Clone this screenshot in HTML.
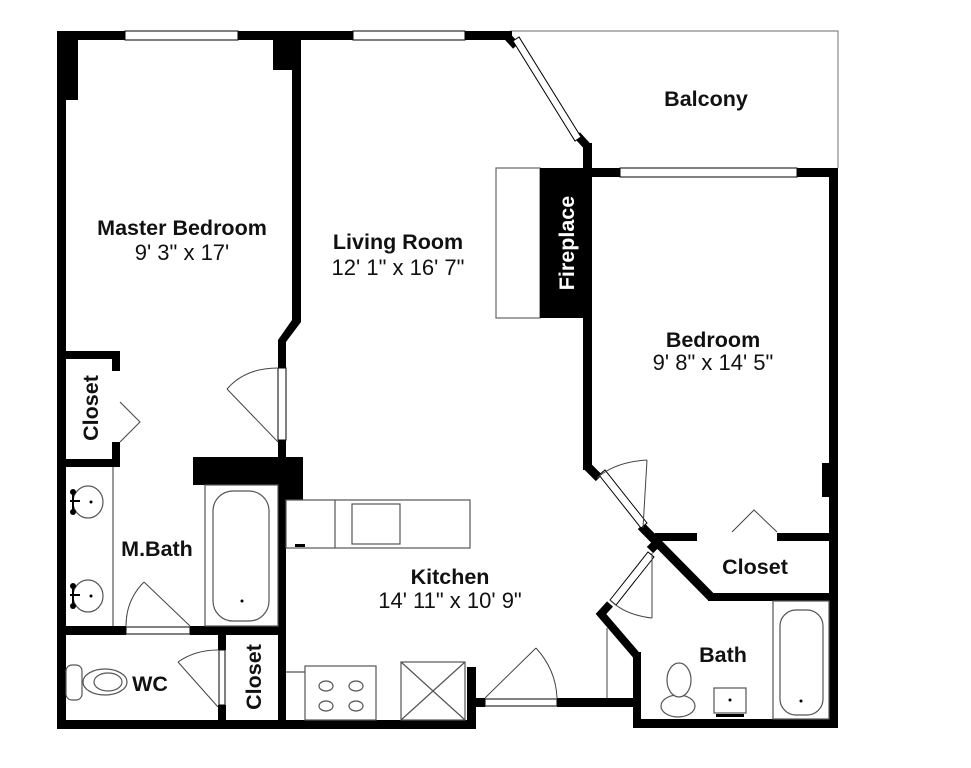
<!DOCTYPE html>
<html><head><meta charset="utf-8"><style>
html,body{margin:0;padding:0;background:#fff;}
svg{display:block;}
text{font-family:"Liberation Sans",Arial,sans-serif;fill:#111;}
.b{font-weight:bold;font-size:21.5px;}
.r{font-size:22px;}
</style></head><body>
<svg width="971" height="768" viewBox="0 0 971 768" xmlns="http://www.w3.org/2000/svg">
<rect width="971" height="768" fill="#fff"/>
<!-- balcony -->
<polyline points="510,31 838,31 838,168" fill="none" stroke="#888" stroke-width="1.2"/>
<!-- hearth -->
<rect x="496" y="168" width="44" height="150" fill="#fff" stroke="#666" stroke-width="1.2"/>
<g fill="#000">
<rect x="57" y="31" width="455" height="9"/>
<rect x="57" y="31" width="9" height="698"/>
<rect x="57" y="31" width="21" height="69"/>
<rect x="273" y="31" width="28" height="39"/>
<rect x="292" y="31" width="9" height="289"/>
<polygon points="292,318 301,318 301,322 286,342 286,368 278,368 278,340 292,320"/>
<rect x="278" y="440" width="8" height="20"/>
<rect x="193" y="457" width="110" height="28"/>
<rect x="278" y="457" width="25" height="43"/>
<rect x="278" y="485" width="8" height="243"/>
<rect x="57" y="351" width="63" height="8"/>
<rect x="112" y="351" width="8" height="20"/>
<rect x="112" y="442" width="8" height="24"/>
<rect x="57" y="459" width="63" height="8"/>
<rect x="57" y="626" width="69" height="9"/>
<rect x="190" y="626" width="96" height="9"/>
<rect x="218" y="635" width="8" height="15"/>
<rect x="218" y="705" width="8" height="18"/>
<rect x="57" y="720" width="419" height="9"/>
<rect x="467" y="667" width="9" height="62"/>
<rect x="467" y="698" width="18" height="9"/>
<rect x="557" y="698" width="84" height="9"/>
<rect x="633" y="652" width="8" height="76"/>
<rect x="633" y="719" width="205" height="9"/>
<rect x="829" y="168" width="9" height="560"/>
<rect x="822" y="463" width="8" height="34"/>
<rect x="583" y="143" width="9" height="327"/>
<rect x="583" y="168" width="37" height="9"/>
<rect x="797" y="168" width="41" height="9"/>
<rect x="540" y="168" width="45" height="150"/>
<rect x="655" y="533" width="42" height="8"/>
<rect x="777" y="533" width="53" height="8"/>
<rect x="708" y="593" width="122" height="8"/>
</g>
<g stroke="#000" fill="none" stroke-linejoin="miter">
<polyline points="587,466 599,478" stroke-width="9"/>
<polyline points="641,526 712,598" stroke-width="9"/>
<polyline points="637,656 601,614 610,604" stroke-width="8"/>
<polyline points="650,550 658,542" stroke-width="9"/>
<polyline points="506,35 516,46" stroke-width="8"/>
<polyline points="577,135 587,146" stroke-width="8"/>
</g>
<g stroke="#000" stroke-width="1" fill="#fff">
<rect x="125" y="31" width="113" height="9"/>
<rect x="353" y="31" width="112" height="9"/>
<rect x="620" y="168" width="177" height="9"/>
<polygon points="513,41 519,37 581,137 575,141"/>
<polygon points="599,475 605,470 647,523 641,528"/>
<polygon points="610,600 616,605 654,557 648,552"/>
<rect x="278" y="368" width="8" height="72" fill="#fff"/>
<rect x="126" y="627" width="64" height="7"/>
<rect x="219" y="650" width="6" height="55"/>
<rect x="485" y="699" width="72" height="7"/>
</g>
<g stroke="#444" stroke-width="1" fill="none">
<line x1="278" y1="442" x2="227" y2="389"/><path d="M227,389 Q245,368 278,368"/>
<polyline points="120,402 140,422 120,442"/>
<line x1="190" y1="626" x2="144" y2="582"/><path d="M144,582 Q126,600 126,626"/>
<line x1="218" y1="707" x2="178" y2="662"/><path d="M178,662 Q195,650 218,650"/>
<line x1="485" y1="698" x2="536" y2="648"/><path d="M536,648 Q556,670 557,698"/>
<line x1="643" y1="528" x2="647" y2="460"/><path d="M647,460 Q615,462 597,478"/>
<line x1="652" y1="553" x2="652" y2="618"/><path d="M652,618 Q625,615 610,600"/>
<polyline points="732,532 754,510 777,532"/>
<line x1="607" y1="628" x2="607" y2="698"/>
</g>
<g stroke="#555" stroke-width="1.2" fill="#fff">
<line x1="113" y1="467" x2="113" y2="626"/>
<rect x="205" y="485" width="73" height="141"/>
<rect x="213" y="491" width="56" height="130" rx="20"/>
<ellipse cx="88" cy="502" rx="15" ry="16"/>
<ellipse cx="88" cy="596" rx="15" ry="16"/>
<rect x="66" y="665" width="16" height="35" rx="6"/>
<ellipse cx="105" cy="682" rx="22" ry="13"/>
<ellipse cx="108" cy="682" rx="14" ry="9"/>
<rect x="286" y="500" width="184" height="48"/>
<line x1="335" y1="500" x2="335" y2="548"/>
<rect x="352" y="504" width="48" height="40"/>
<line x1="286" y1="672" x2="305" y2="672"/>
<rect x="305" y="666" width="71" height="54"/>
<ellipse cx="326" cy="686" rx="7" ry="5"/><ellipse cx="356" cy="686" rx="7" ry="5"/>
<ellipse cx="326" cy="706" rx="7" ry="5"/><ellipse cx="356" cy="706" rx="7" ry="5"/>
<rect x="401" y="662" width="64" height="58"/>
<line x1="401" y1="662" x2="465" y2="720"/><line x1="465" y1="662" x2="401" y2="720"/>
<rect x="773" y="601" width="56" height="118"/>
<rect x="780" y="610" width="43" height="105" rx="16"/>
<ellipse cx="678" cy="706" rx="17" ry="11"/>
<ellipse cx="679" cy="680" rx="12" ry="17"/>
<rect x="714" y="688" width="32" height="25"/>
</g>
<g fill="#000">
<rect x="295" y="544" width="10" height="3"/>
<circle cx="91" cy="502" r="1.5"/><circle cx="91" cy="596" r="1.5"/>
<rect x="70" y="500" width="10" height="2"/><circle cx="73" cy="492" r="3"/><circle cx="73" cy="512" r="3"/><rect x="72" y="492" width="2" height="20"/>
<rect x="70" y="594" width="10" height="2"/><circle cx="73" cy="586" r="3"/><circle cx="73" cy="606" r="3"/><rect x="72" y="586" width="2" height="20"/>
<circle cx="242" cy="601" r="1.5"/><circle cx="801" cy="701" r="1.5"/><circle cx="730" cy="700" r="1.5"/>
<rect x="716" y="714" width="28" height="3"/>
</g>
<text class="b" x="706" y="106" text-anchor="middle">Balcony</text>
<text class="b" x="182" y="235" text-anchor="middle">Master Bedroom</text>
<text class="r" x="182" y="260" text-anchor="middle">9' 3" x 17'</text>
<text class="b" x="398" y="249" text-anchor="middle">Living Room</text>
<text class="r" x="398" y="275" text-anchor="middle">12' 1" x 16' 7"</text>
<text class="b" x="713" y="347" text-anchor="middle">Bedroom</text>
<text class="r" x="713" y="370" text-anchor="middle">9' 8" x 14' 5"</text>
<text class="b" x="450" y="584" text-anchor="middle">Kitchen</text>
<text class="r" x="450" y="608" text-anchor="middle">14' 11" x 10' 9"</text>
<text class="b" x="157" y="556" text-anchor="middle">M.Bath</text>
<text class="b" x="150" y="691" text-anchor="middle">WC</text>
<text class="b" x="755" y="574" text-anchor="middle">Closet</text>
<text class="b" x="723" y="662" text-anchor="middle">Bath</text>
<text class="b" transform="translate(98,408) rotate(-90)" text-anchor="middle">Closet</text>
<text class="b" transform="translate(261,677) rotate(-90)" text-anchor="middle">Closet</text>
<text class="b" transform="translate(574,243) rotate(-90)" text-anchor="middle" style="fill:#fff">Fireplace</text>
</svg>
</body></html>
